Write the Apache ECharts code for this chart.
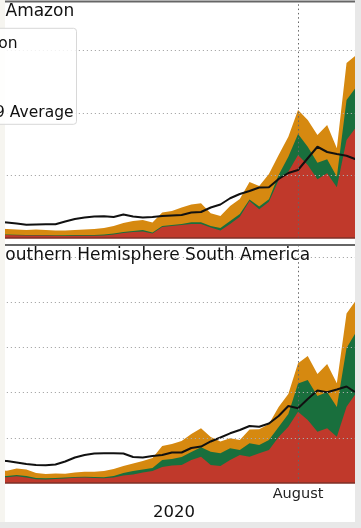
<!DOCTYPE html>
<html>
<head>
<meta charset="utf-8">
<script src="https://cdn.jsdelivr.net/npm/echarts@6/dist/echarts.min.js"></script>
<style>
html,body{margin:0;padding:0;background:#fff;}
#chart{width:361px;height:528px;}
</style>
</head>
<body>
<div id="chart"></div>
<script>
// Weekly dates (2019-12-28 .. 2020-09-12)
const dates = ['2019-12-28','2020-01-04','2020-01-11','2020-01-18','2020-01-25','2020-02-01','2020-02-08','2020-02-15','2020-02-22','2020-02-29',
  '2020-03-07','2020-03-14','2020-03-21','2020-03-28','2020-04-04','2020-04-11','2020-04-18','2020-04-25','2020-05-02','2020-05-09',
  '2020-05-16','2020-05-23','2020-05-30','2020-06-06','2020-06-13','2020-06-20','2020-06-27','2020-07-04','2020-07-11','2020-07-18',
  '2020-07-25','2020-08-01','2020-08-08','2020-08-15','2020-08-22','2020-08-29','2020-09-05','2020-09-12'];
const seriesNames = ['Deforestation','Understory','Agriculture','2003-2019 Average'];
const panelTitles = ['Amazon','Southern Hemisphere South America'];
const xTickLabel = 'August';
const xTickDate = '2020-08-01';
const xAxisTitle = '2020';

// Amazon panel
const amzRed    = [12,12,11,10,10,10,9,8,9,9,9,10,14,20,24,26,18,44,48,52,56,56,42,30,56,85,148,115,145,232,265,332,292,235,259,203,392,444];
const amzGreen  = [2,2,2,2,2,2,2,3,3,3,3,4,4,4,4,6,4,4,4,4,7,7,6,10,12,11,6,11,10,20,60,84,73,66,56,42,160,160];
const amzOrange = [24,22,21,20,22,20,19,19,20,22,24,26,30,36,40,40,40,54,56,66,71,76,51,48,60,60,70,82,101,80,80,96,107,111,137,114,148,128];
const amzAvg    = [66,62,58,53,54,55,55,66,76,82,86,87,84,94,86,82,84,88,90,92,102,104,122,134,159,176,188,202,203,236,260,272,319,365,344,336,329,314];

// Southern Hemisphere South America panel
const shsaRed    = [63,63,74,61,41,39,44,50,57,61,55,52,61,83,94,116,133,177,193,199,254,291,199,188,254,309,291,328,365,508,622,788,696,567,604,512,843,995];
const shsaGreen  = [14,14,14,17,14,13,11,11,9,9,11,11,17,28,39,33,33,77,72,88,88,104,147,140,129,55,148,92,111,111,140,312,442,394,401,328,649,674];
const shsaOrange = [61,59,72,72,55,48,50,41,50,55,59,70,77,77,83,94,111,155,166,177,199,210,162,130,111,111,152,173,177,221,221,223,265,243,309,262,381,354];
const shsaAvg    = [249,243,227,210,199,196,204,238,282,309,326,328,328,326,287,282,298,309,337,337,387,403,459,503,549,586,630,622,657,740,851,825,928,1022,1002,1033,1066,995];

const day0 = Date.UTC(2020,0,1);
const toDay = s => { const p = s.split('-').map(Number); return (Date.UTC(p[0],p[1]-1,p[2]) - day0) / 864e5; };
const days = dates.map(toDay);
const augDay = toDay(xTickDate);
const pair = arr => arr.map((v,i) => [days[i], v]);

const colors = ['#C0392B','#196F3D','#D68910'];
const font = 'DejaVu Sans';
const gridDefs = [
  {left: 2.8, top: 1.5, width: 352.2, height: 236.5},
  {left: 2.8, top: 245, width: 352.2, height: 238}
];
const yMax = [946, 2630];
const yInt = [250, 500];
const panels = [[amzRed, amzGreen, amzOrange, amzAvg],[shsaRed, shsaGreen, shsaOrange, shsaAvg]];

const grids = gridDefs.map(g => Object.assign({outerBoundsMode:'none', containLabel:false}, g));
const xAxes = [0,1].map(p => ({
  gridIndex: p, type: 'value', min: 0, max: 254.1, interval: augDay, z: 10,
  axisLine: {show: true, lineStyle: {color: '#7d3028', width: 1.5}},
  axisTick: {show: false},
  splitLine: {show: false},
  axisLabel: {show: p === 1, margin: 4, fontFamily: font, fontSize: 14.5, color: '#222',
    formatter: v => (Math.abs(v - augDay) < 1e-6 ? xTickLabel : '')}
}));
const yAxes = [0,1].map(p => ({
  gridIndex: p, type: 'value', min: 0, max: yMax[p], interval: yInt[p], z: 10,
  axisLine: {show: false}, axisTick: {show: false}, axisLabel: {show: false},
  splitLine: {show: true, showMinLine: false, showMaxLine: false,
    lineStyle: {color: '#aaa', width: 1, type: [1.2, 2.8]}}
}));

const series = [];
[0,1].forEach(p => {
  const d = panels[p];
  // cumulative layers (stack bottom -> top)
  const cum = [];
  let run = d[0].map(() => 0);
  for (let k = 0; k < 3; k++) {
    run = run.map((v, i) => v + d[k][i]);
    cum.push(run.slice());
  }
  // draw top layer first so lower layers paint over it
  for (let k = 2; k >= 0; k--) {
    series.push({
      name: seriesNames[k], type: 'line', xAxisIndex: p, yAxisIndex: p,
      data: pair(cum[k]), symbol: 'none', smooth: false,
      lineStyle: {width: 0}, areaStyle: {color: colors[k], opacity: 1, origin: 'start'}, itemStyle: {color: colors[k]},
      z: 2
    });
  }
  series.push({
    name: seriesNames[3], type: 'line', xAxisIndex: p, yAxisIndex: p,
    data: pair(d[3]), symbol: 'none', smooth: false,
    lineStyle: {width: 2, color: '#111'}, itemStyle: {color: '#111'}, z: 4,
    markLine: {silent: true, symbol: ['none','none'], label: {show: false},
      lineStyle: {type: [1.5, 2.8], color: '#666', width: 1}, data: [{xAxis: augDay}]}
  });
});

const graphic = [
  {type:'text', x:-5.5, y:255.5, style:{text: panelTitles[1], font: '17px "DejaVu Sans"', fill:'#111', textAlign:'left', textVerticalAlign:'middle'}, z:20},
  {type:'rect', shape:{x:0, y:0, width:5, height:522}, style:{fill:'#f6f5f0'}, z:25},
  {type:'rect', shape:{x:355, y:0, width:6, height:528}, style:{fill:'#e8e8e8'}, z:50},
  {type:'rect', shape:{x:0, y:522, width:361, height:6}, style:{fill:'#e8e8e8'}, z:50},
  {type:'line', shape:{x1:5, y1:1.5, x2:355, y2:1.5}, style:{stroke:'#666', lineWidth:2}, z:30},
  {type:'line', shape:{x1:5, y1:245, x2:355, y2:245}, style:{stroke:'#666', lineWidth:1.8}, z:30},
  {type:'text', x:5.5, y:12, style:{text: panelTitles[0], font: '17px "DejaVu Sans"', fill:'#111', textAlign:'left', textVerticalAlign:'middle'}, z:30},
  {type:'rect', shape:{x:-30, y:28.3, width:106.5, height:96, r:3}, style:{fill:'rgba(255,255,255,0.85)', stroke:'#d8d8d8', lineWidth:1}, z:30},
  {type:'text', x:17.5, y:43.5, style:{text: seriesNames[0], font: '15.5px "DejaVu Sans"', fill:'#111', textAlign:'right', textVerticalAlign:'middle'}, z:31},
  {type:'text', x:73.5, y:113.3, style:{text: seriesNames[3], font: '15.5px "DejaVu Sans"', fill:'#111', textAlign:'right', textVerticalAlign:'middle'}, z:31},
  {type:'text', x:174, y:512.5, style:{text: xAxisTitle, font: '16.5px "DejaVu Sans"', fill:'#111', textAlign:'center', textVerticalAlign:'middle'}, z:30}
];

const chart = echarts.init(document.getElementById('chart'), null, {renderer:'canvas'});
chart.setOption({
  animation: false,
  backgroundColor: '#fff',
  textStyle: {fontFamily: font},
  grid: grids, xAxis: xAxes, yAxis: yAxes, series: series, graphic: graphic
});
</script>
</body>
</html>
